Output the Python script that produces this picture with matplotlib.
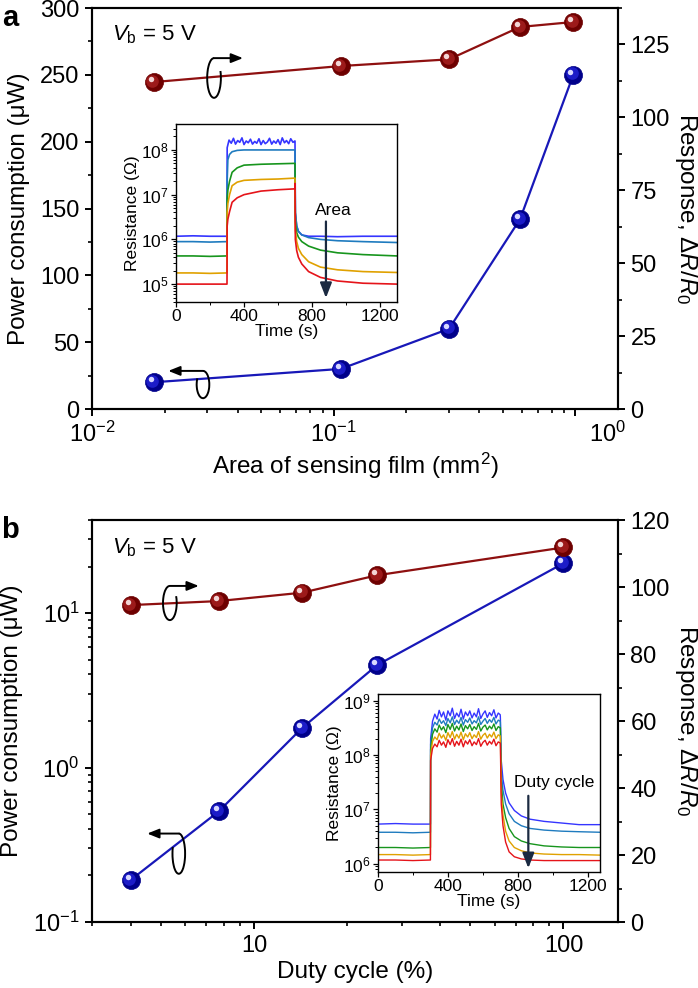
import matplotlib
matplotlib.use('Agg')
import matplotlib.pyplot as plt
from matplotlib.ticker import (FixedLocator, FixedFormatter, MultipleLocator,
                               LogLocator, NullFormatter, LogFormatterMathtext)
from matplotlib.transforms import ScaledTranslation
from matplotlib.patches import Arc

plt.rcParams['font.family'] = ['Liberation Sans', 'DejaVu Sans']
plt.rcParams['mathtext.fontset'] = 'custom'
plt.rcParams['mathtext.rm'] = 'Liberation Sans'
plt.rcParams['mathtext.it'] = 'Liberation Sans:italic'
plt.rcParams['mathtext.bf'] = 'Liberation Sans:bold'
plt.rcParams['axes.linewidth'] = 1.5

# ---------------- main data ----------------
area_mm2 = [0.018, 0.107, 0.30, 0.59, 0.98]
power_area_uW = [20, 30, 60, 142, 250]
response_area = [112.1, 117.6, 119.9, 131.0, 132.7]

duty_pct = [4.0, 7.7, 14.3, 25.0, 100.0]
power_duty_uW = [0.187, 0.52, 1.8, 4.6, 21.0]
response_duty = [94.6, 95.8, 98.3, 103.5, 111.8]

# ---------------- inset a data (log10 resistance) ----------------
ta_base = [0, 100, 200, 300]
ta_rise = [301, 305, 315, 330, 360, 400, 500, 600, 699]
ta_fall = [700, 702, 710, 720, 740, 780, 850, 950, 1100, 1300]
ta_noise = [301, 312, 325, 338, 350, 363, 375, 388, 400, 413, 425,
            438, 450, 463, 475, 488, 500, 513, 525, 538, 550, 563,
            575, 588, 600, 613, 625, 638, 650, 663, 675, 688, 699]

a_blue_base = [6.07, 6.08, 6.07, 6.07]
a_blue_plat = [8.05, 8.22, 8.15, 8.26, 8.13, 8.21, 8.17, 8.27, 8.12, 8.20, 8.16,
               8.24, 8.13, 8.19, 8.15, 8.25, 8.12, 8.21, 8.14, 8.18, 8.26, 8.13,
               8.20, 8.15, 8.23, 8.12, 8.27, 8.16, 8.21, 8.14, 8.25, 8.17, 8.20]
a_blue_fall = [8.20, 6.60, 6.30, 6.18, 6.10, 6.07, 6.07, 6.06, 6.07, 6.07]

a_steel_base = [5.95, 5.95, 5.94, 5.95]
a_steel_rise = [7.30, 7.78, 7.90, 7.96, 7.99, 8.00, 8.00, 8.00, 8.00]
a_steel_fall = [8.00, 6.60, 6.30, 6.18, 6.10, 6.04, 6.00, 5.97, 5.95, 5.93]

a_green_base = [5.63, 5.63, 5.62, 5.63]
a_green_rise = [6.90, 7.10, 7.30, 7.50, 7.60, 7.66, 7.68, 7.69, 7.70]
a_green_fall = [7.70, 6.40, 6.15, 6.05, 5.95, 5.85, 5.76, 5.70, 5.66, 5.63]

a_gold_base = [5.25, 5.25, 5.24, 5.25]
a_gold_rise = [6.60, 6.80, 7.00, 7.20, 7.28, 7.32, 7.34, 7.35, 7.37]
a_gold_fall = [7.37, 6.20, 5.95, 5.80, 5.66, 5.50, 5.38, 5.32, 5.28, 5.26]

a_red_base = [5.00, 5.00, 5.00, 5.00]
a_red_rise = [6.30, 6.45, 6.62, 6.83, 6.93, 7.00, 7.08, 7.11, 7.13]
a_red_fall = [7.25, 6.00, 5.75, 5.60, 5.45, 5.28, 5.15, 5.07, 5.02, 5.00]

# ---------------- inset b data (log10 resistance) ----------------
tb_base = [0, 100, 200, 300]
tb_plat = [301, 312, 325, 338, 350, 363, 375, 388, 400, 413, 425,
           438, 450, 463, 475, 488, 500, 513, 525, 538, 550, 563,
           575, 588, 600, 613, 625, 638, 650, 663, 675, 688, 699]
tb_fall = [700, 705, 715, 730, 750, 780, 820, 870, 950, 1050, 1150, 1270]

b_blue_base = [6.73, 6.74, 6.73, 6.73]
b_blue_plat = [8.30, 8.62, 8.75, 8.66, 8.82, 8.70, 8.79, 8.64, 8.81, 8.72, 8.86,
               8.67, 8.77, 8.70, 8.84, 8.66, 8.79, 8.72, 8.81, 8.68, 8.77, 8.70,
               8.85, 8.67, 8.75, 8.81, 8.69, 8.78, 8.72, 8.83, 8.68, 8.77, 8.74]
b_blue_fall = [8.70, 7.90, 7.55, 7.30, 7.12, 6.98, 6.88, 6.82, 6.78, 6.75, 6.72, 6.72]

b_steel_base = [6.58, 6.58, 6.57, 6.58]
b_steel_plat = [8.20, 8.50, 8.60, 8.55, 8.66, 8.58, 8.63, 8.54, 8.67, 8.59, 8.70,
                8.56, 8.64, 8.58, 8.69, 8.55, 8.65, 8.60, 8.68, 8.57, 8.63, 8.59,
                8.70, 8.56, 8.62, 8.67, 8.58, 8.65, 8.60, 8.69, 8.57, 8.64, 8.62]
b_steel_fall = [8.60, 7.70, 7.35, 7.10, 6.92, 6.78, 6.70, 6.65, 6.62, 6.60, 6.59, 6.58]

b_green_base = [6.30, 6.30, 6.29, 6.30]
b_green_plat = [8.10, 8.38, 8.48, 8.42, 8.55, 8.46, 8.52, 8.41, 8.56, 8.47, 8.58,
                8.44, 8.53, 8.46, 8.57, 8.43, 8.54, 8.48, 8.56, 8.45, 8.52, 8.47,
                8.58, 8.44, 8.51, 8.55, 8.46, 8.53, 8.48, 8.57, 8.45, 8.52, 8.50]
b_green_fall = [8.50, 7.50, 7.10, 6.85, 6.65, 6.50, 6.42, 6.37, 6.33, 6.31, 6.30, 6.30]

b_orange_base = [6.17, 6.17, 6.16, 6.17]
b_orange_plat = [8.00, 8.25, 8.33, 8.28, 8.40, 8.31, 8.37, 8.27, 8.41, 8.32, 8.43,
                 8.29, 8.38, 8.31, 8.42, 8.28, 8.39, 8.33, 8.41, 8.30, 8.37, 8.32,
                 8.43, 8.29, 8.36, 8.40, 8.31, 8.38, 8.33, 8.42, 8.30, 8.37, 8.35]
b_orange_fall = [8.35, 7.30, 6.90, 6.60, 6.42, 6.30, 6.24, 6.20, 6.18, 6.17, 6.17, 6.16]

b_red_base = [6.07, 6.07, 6.06, 6.07]
b_red_plat = [7.90, 8.12, 8.20, 8.15, 8.27, 8.18, 8.24, 8.14, 8.28, 8.19, 8.30,
              8.16, 8.25, 8.18, 8.29, 8.15, 8.26, 8.20, 8.28, 8.17, 8.24, 8.19,
              8.30, 8.16, 8.23, 8.27, 8.18, 8.25, 8.20, 8.29, 8.17, 8.24, 8.22]
b_red_fall = [8.20, 7.10, 6.70, 6.40, 6.22, 6.13, 6.09, 6.07, 6.06, 6.06, 6.06, 6.06]

# ---------------- styling ----------------
C_BLUE, C_STEEL, C_GREEN, C_GOLD, C_RED = '#3535ff', '#1f7bbf', '#17951d', '#e0a100', '#e5141a'
RED_LINE, BLUE_LINE = '#8e1010', '#1818b8'
FS = 17
FS_LAB = 17.5
FS_IN = 12.5

W, H = 698, 988
fig = plt.figure(figsize=(W / 100, H / 100), dpi=100)


def rect(l, t, r, b):
    return [l / W, 1 - b / H, (r - l) / W, (b - t) / H]


def spheres(ax, x, y, base, mid, light, ms=13):
    ax.plot(x, y, 'o', ms=ms, color=base, mec=base, mew=0.5, zorder=5, clip_on=False)
    off1 = ScaledTranslation(-1.0 / 72, 1.0 / 72, fig.dpi_scale_trans)
    ax.plot(x, y, 'o', ms=ms * 0.7, color=mid, mec='none', zorder=6, clip_on=False,
            transform=ax.transData + off1)
    off2 = ScaledTranslation(-2.2 / 72, 2.2 / 72, fig.dpi_scale_trans)
    ax.plot(x, y, 'o', ms=ms * 0.3, color=light, mec='none', zorder=7, clip_on=False,
            transform=ax.transData + off2)


def curl_arrow(ax, cx, top, bottom, w, tip_x):
    cy = (top + bottom) / 2
    h = top - bottom
    if tip_x > cx:
        t1, t2 = 90, 55
    else:
        t1, t2 = 125, 90
    ax.add_patch(Arc((cx, cy), w, h, theta1=t1, theta2=t2, transform=ax.transAxes,
                     color='black', lw=1.4, clip_on=False, zorder=8))
    ax.annotate('', xy=(tip_x, top), xytext=(cx, top), xycoords='axes fraction',
                textcoords='axes fraction', zorder=8,
                arrowprops=dict(arrowstyle='-|>,head_width=0.28,head_length=0.7',
                                color='black', lw=1.4, shrinkA=0, shrinkB=0))


def style_main(ax):
    ax.tick_params(which='major', direction='out', length=5, width=1.4, labelsize=FS, pad=4)
    ax.tick_params(which='minor', direction='out', length=3, width=1.2)
    for s in ax.spines.values():
        s.set_linewidth(1.5)


def style_inset(ax):
    ax.tick_params(which='major', direction='out', length=3.5, width=0.9,
                   labelsize=FS_IN, pad=1.5, top=False, right=False)
    ax.tick_params(which='minor', direction='out', length=2, width=0.7, top=False, right=False)
    for s in ax.spines.values():
        s.set_linewidth(1.0)


# ================= Panel a =================
axA = fig.add_axes(rect(92, 8, 618, 409))
axA2 = axA.twinx()
axA.set_xscale('log')
axA.set_xlim(0.01, 1.5)
axA.set_ylim(0, 300)
axA2.set_ylim(0, 137.5)

axA.plot(area_mm2, power_area_uW, '-', color=BLUE_LINE, lw=1.6, zorder=4)
spheres(axA, area_mm2, power_area_uW, '#00008a', '#1c1cc8', '#d8d8ff')
axA2.plot(area_mm2, response_area, '-', color=RED_LINE, lw=1.6, zorder=4)
spheres(axA2, area_mm2, response_area, '#6e0000', '#9c1a1a', '#f3d6d6')

axA.xaxis.set_major_locator(FixedLocator([0.01, 0.1, 1.0]))
axA.xaxis.set_major_formatter(FixedFormatter(['$10^{-2}$', '$10^{-1}$', '']))
axA.xaxis.set_minor_locator(LogLocator(base=10, subs=[2, 3, 4, 5, 6, 7, 8, 9]))
axA.xaxis.set_minor_formatter(NullFormatter())
axA.yaxis.set_major_locator(MultipleLocator(50))
axA.yaxis.set_minor_locator(MultipleLocator(25))
axA2.yaxis.set_major_locator(FixedLocator([0, 25, 50, 75, 100, 125]))
axA2.yaxis.set_minor_locator(MultipleLocator(12.5))
style_main(axA)
style_main(axA2)
axA.tick_params(top=False, right=False, which='both')
axA.annotate('$10^{0}$', xy=(0.981, 0), xycoords='axes fraction', xytext=(0, -9),
             textcoords='offset points', ha='center', va='top', fontsize=FS)

axA.set_xlabel('Area of sensing film (mm$^2$)', fontsize=FS_LAB, labelpad=3)
axA.set_ylabel('Power consumption (μW)', fontsize=FS_LAB, labelpad=7)
axA2.set_ylabel(r'Response, $\mathit{ΔR/R}_0$', fontsize=FS_LAB, rotation=270, labelpad=21)

axA.text(0.038, 0.933, r'$V_\mathrm{b}$ = 5 V', transform=axA.transAxes, fontsize=16,
         ha='left', va='center')
curl_arrow(axA2, 0.232, 0.875, 0.776, 0.026, 0.287)
curl_arrow(axA2, 0.211, 0.095, 0.027, 0.024, 0.145)
fig.text(10 / W, 1 - 18 / H, 'a', fontsize=21, fontweight='bold', ha='center', va='center')

# inset a
inA = fig.add_axes(rect(176, 124, 397, 302))
inA.set_yscale('log')
curves_a = [
    (ta_base + ta_noise + ta_fall, a_blue_base + a_blue_plat + a_blue_fall, C_BLUE),
    (ta_base + ta_rise + ta_fall, a_steel_base + a_steel_rise + a_steel_fall, C_STEEL),
    (ta_base + ta_rise + ta_fall, a_green_base + a_green_rise + a_green_fall, C_GREEN),
    (ta_base + ta_rise + ta_fall, a_gold_base + a_gold_rise + a_gold_fall, C_GOLD),
    (ta_base + ta_rise + ta_fall, a_red_base + a_red_rise + a_red_fall, C_RED),
]
for t, v, c in curves_a:
    inA.plot(t, [10 ** x for x in v], '-', color=c, lw=1.2)
inA.set_xlim(0, 1300)
inA.set_ylim(10 ** 4.6, 10 ** 8.58)
inA.xaxis.set_major_locator(FixedLocator([0, 400, 800, 1200]))
inA.xaxis.set_minor_locator(FixedLocator([200, 600, 1000]))
inA.yaxis.set_major_locator(FixedLocator([1e5, 1e6, 1e7, 1e8]))
inA.yaxis.set_major_formatter(LogFormatterMathtext())
inA.yaxis.set_minor_locator(LogLocator(base=10, subs=[2, 3, 4, 5, 6, 7, 8, 9]))
inA.yaxis.set_minor_formatter(NullFormatter())
style_inset(inA)
inA.set_xlabel('Time (s)', fontsize=FS_IN, labelpad=0)
inA.set_ylabel('Resistance (Ω)', fontsize=FS_IN, labelpad=1)
inA.annotate('', xy=(882, 10 ** 4.69), xytext=(882, 10 ** 6.4),
             arrowprops=dict(arrowstyle='-|>,head_width=0.35,head_length=0.9',
                             color='#1b2a41', lw=1.6, shrinkA=0, shrinkB=0))
inA.text(923, 10 ** 6.65, 'Area', fontsize=FS_IN, ha='center', va='center')

# ================= Panel b =================
axB = fig.add_axes(rect(92, 520, 618, 922))
axB2 = axB.twinx()
axB.set_xscale('log')
axB.set_yscale('log')
axB.set_xlim(3, 150)
axB.set_ylim(0.1, 40)
axB2.set_ylim(0, 120)

axB.plot(duty_pct, power_duty_uW, '-', color=BLUE_LINE, lw=1.6, zorder=4)
spheres(axB, duty_pct, power_duty_uW, '#00008a', '#1c1cc8', '#d8d8ff')
axB2.plot(duty_pct, response_duty, '-', color=RED_LINE, lw=1.6, zorder=4)
spheres(axB2, duty_pct, response_duty, '#6e0000', '#9c1a1a', '#f3d6d6')

axB.xaxis.set_major_locator(FixedLocator([10, 100]))
axB.xaxis.set_major_formatter(FixedFormatter(['10', '100']))
axB.xaxis.set_minor_locator(LogLocator(base=10, subs=[2, 3, 4, 5, 6, 7, 8, 9]))
axB.xaxis.set_minor_formatter(NullFormatter())
axB.yaxis.set_major_locator(FixedLocator([0.1, 1, 10]))
axB.yaxis.set_major_formatter(LogFormatterMathtext())
axB.yaxis.set_minor_locator(LogLocator(base=10, subs=[2, 3, 4, 5, 6, 7, 8, 9]))
axB.yaxis.set_minor_formatter(NullFormatter())
axB2.yaxis.set_major_locator(MultipleLocator(20))
axB2.yaxis.set_minor_locator(MultipleLocator(10))
style_main(axB)
style_main(axB2)
axB.tick_params(top=False, right=False, which='both')

axB.set_xlabel('Duty cycle (%)', fontsize=FS_LAB, labelpad=3)
axB.set_ylabel('Power consumption (μW)', fontsize=FS_LAB, labelpad=7)
axB2.set_ylabel(r'Response, $\mathit{ΔR/R}_0$', fontsize=FS_LAB, rotation=270, labelpad=21)

axB.text(0.038, 0.93, r'$V_\mathrm{b}$ = 5 V', transform=axB.transAxes, fontsize=16,
         ha='left', va='center')
curl_arrow(axB2, 0.148, 0.836, 0.751, 0.026, 0.203)
curl_arrow(axB2, 0.165, 0.22, 0.12, 0.024, 0.105)
fig.text(10 / W, 1 - 530 / H, 'b', fontsize=21, fontweight='bold', ha='center', va='center')

# inset b
inB = fig.add_axes(rect(378, 694, 600, 872))
inB.set_yscale('log')
curves_b = [
    (tb_base + tb_plat + tb_fall, b_blue_base + b_blue_plat + b_blue_fall, C_BLUE),
    (tb_base + tb_plat + tb_fall, b_steel_base + b_steel_plat + b_steel_fall, C_STEEL),
    (tb_base + tb_plat + tb_fall, b_green_base + b_green_plat + b_green_fall, C_GREEN),
    (tb_base + tb_plat + tb_fall, b_orange_base + b_orange_plat + b_orange_fall, C_GOLD),
    (tb_base + tb_plat + tb_fall, b_red_base + b_red_plat + b_red_fall, C_RED),
]
for t, v, c in curves_b:
    inB.plot(t, [10 ** x for x in v], '-', color=c, lw=1.0)
inB.set_xlim(0, 1270)
inB.set_ylim(10 ** 5.85, 10 ** 9.12)
inB.xaxis.set_major_locator(FixedLocator([0, 400, 800, 1200]))
inB.xaxis.set_minor_locator(FixedLocator([200, 600, 1000]))
inB.yaxis.set_major_locator(FixedLocator([1e6, 1e7, 1e8, 1e9]))
inB.yaxis.set_major_formatter(LogFormatterMathtext())
inB.yaxis.set_minor_locator(LogLocator(base=10, subs=[2, 3, 4, 5, 6, 7, 8, 9]))
inB.yaxis.set_minor_formatter(NullFormatter())
style_inset(inB)
inB.set_xlabel('Time (s)', fontsize=FS_IN, labelpad=0)
inB.set_ylabel('Resistance (Ω)', fontsize=FS_IN, labelpad=1)
inB.annotate('', xy=(860, 10 ** 5.92), xytext=(860, 10 ** 7.25),
             arrowprops=dict(arrowstyle='-|>,head_width=0.35,head_length=0.9',
                             color='#1b2a41', lw=1.6, shrinkA=0, shrinkB=0))
inB.text(1010, 10 ** 7.5, 'Duty cycle', fontsize=FS_IN, ha='center', va='center')

fig.savefig('out.png', dpi=100)
